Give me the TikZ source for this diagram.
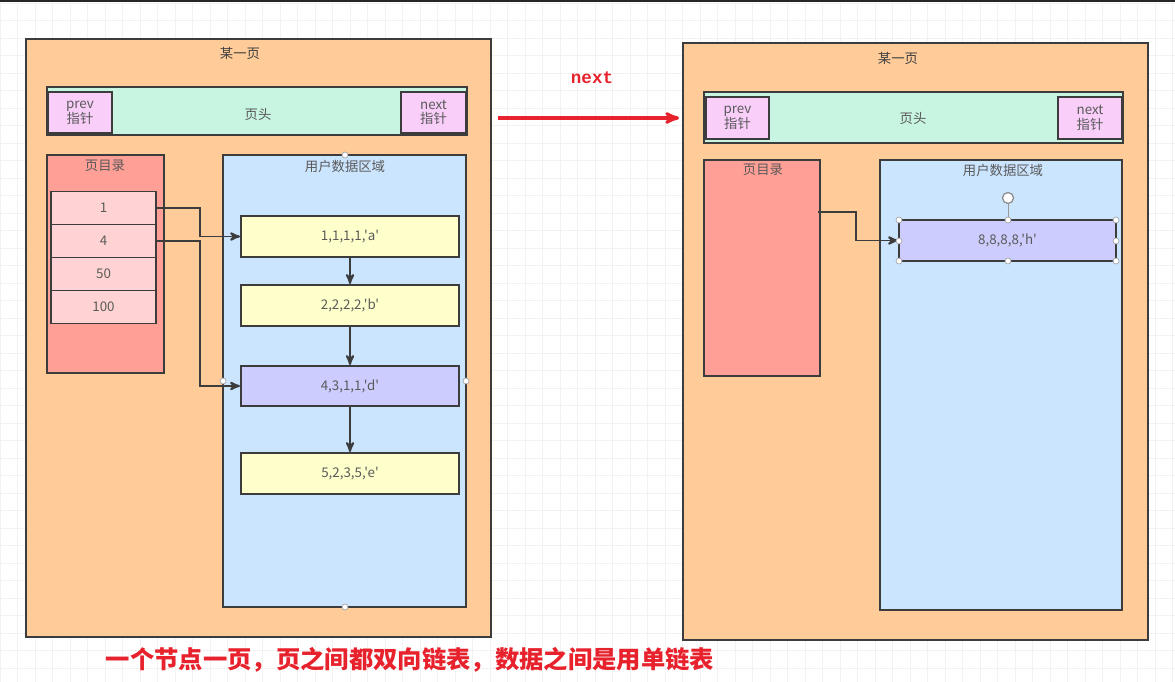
\documentclass[tikz,border=0pt]{standalone}
\usepackage{fontspec}
\setmainfont{Noto Sans CJK SC}[Ligatures=TeXOff]
\newfontfamily\nextfont{Liberation Mono}
\usepackage{tikz}
\usetikzlibrary{arrows}
\usetikzlibrary{calc}
\definecolor{pagefill}{HTML}{FFCC99}
\definecolor{headfill}{HTML}{C8F5E1}
\definecolor{ptrfill}{HTML}{F9CEF9}
\definecolor{dirfill}{HTML}{FF9F96}
\definecolor{slotfill}{HTML}{FFD3D3}
\definecolor{datafill}{HTML}{CCE5FF}
\definecolor{recfill}{HTML}{FFFFCC}
\definecolor{selfill}{HTML}{CCCCFF}
\definecolor{boxline}{HTML}{3C3C3C}
\definecolor{txtgray}{HTML}{5A5A5A}
\definecolor{notered}{HTML}{E8222C}
\newcommand{\pxl}{0.025cm}

\begin{document}
\begin{tikzpicture}[x=0.025cm,y=-0.025cm]
\useasboundingbox (0,0) rectangle (1175,682);
% canvas grid
\fill[white] (0,0) rectangle (1175,682);
\foreach \gx in {0,17.5,...,1175} \draw[black!5,line width=0.4pt] (\gx,3) -- (\gx,682);
\foreach \gy in {3,20.5,...,682} \draw[black!5,line width=0.4pt] (0,\gy) -- (1175,\gy);
\fill[black!85] (0,0) rectangle (1175,2.5);

\begin{scope}[>=stealth',
  box/.style={draw=boxline,line width=1.4pt,inner sep=0pt,text=txtgray,font=\fontsize{9.5}{11}\selectfont},
  wh/.style 2 args={minimum width=#1*\pxl,minimum height=#2*\pxl},
  page/.style={box,fill=pagefill},
  head/.style={box,fill=headfill},
  ptr/.style={box,fill=ptrfill,align=center,font=\fontsize{9.5}{10.5}\selectfont},
  dir/.style={box,fill=dirfill},
  slot/.style={box,fill=slotfill},
  udata/.style={box,fill=datafill},
  rec/.style={box,fill=recfill},
  recsel/.style={box,fill=selfill},
  lbl/.style={text=txtgray,inner sep=0pt,font=\fontsize{9.5}{11}\selectfont},
  link/.style={->,draw=boxline,line width=1.4pt}]

% left page
\node[page,wh={465}{598}] (lpage) at (258.5,338) {};
\node[lbl,text=black!75] (ltitle) at (240,53) {某一页};
\node[head,wh={420}{48}] (lhead) at (257,111) {};
\node[lbl] (lheadlbl) at (258,115) {页头};
\node[ptr,wh={64}{41}] (lprev) at (80,112.5) {prev\\指针};
\node[ptr,wh={65}{41}] (lnext) at (433.5,112.5) {next\\指针};
\node[dir,wh={117}{218}] (ldir) at (105.5,264) {};
\node[lbl] (ldirlbl) at (105,166) {页目录};
\node[slot,wh={105}{33}] (s1) at (103.5,208) {1};
\node[slot,wh={105}{33}] (s4) at (103.5,241) {4};
\node[slot,wh={105}{33}] (s50) at (103.5,274) {50};
\node[slot,wh={105}{33}] (s100) at (103.5,307) {100};
\node[udata,wh={243}{452}] (ludata) at (344.5,381) {};
\node[lbl] (ludatalbl) at (345,166) {用户数据区域};
\node[rec,wh={218}{41}] (ra) at (350,236.5) {1,1,1,1,'a'};
\node[rec,wh={218}{41}] (rb) at (350,305.5) {2,2,2,2,'b'};
\node[recsel,wh={218}{40}] (rd) at (350,386) {4,3,1,1,'d'};
\node[rec,wh={218}{41}] (re) at (350,473.5) {5,2,3,5,'e'};
\path[link]
  (ra) edge (rb)
  (rb) edge (rd)
  (rd) edge (re);
\draw[link] (s1.east) -- ++(43,0) |- (ra.west);
\draw[link] (s4.east) -- ++(43,0) |- (rd.west);

% right page
\node[page,wh={465}{597}] (rpage) at (915.5,341.5) {};
\node[lbl,text=black!75] (rtitle) at (898,58) {某一页};
\node[head,wh={419}{51}] (rhead) at (913.5,117.5) {};
\node[lbl] (rheadlbl) at (913,119) {页头};
\node[ptr,wh={63}{42}] (rprev) at (737.5,118) {prev\\指针};
\node[ptr,wh={64}{42}] (rnext) at (1090,118) {next\\指针};
\node[dir,wh={116}{216}] (rdir) at (762,268) {};
\node[lbl] (rdirlbl) at (763,170) {页目录};
\node[udata,wh={242}{450}] (rudata) at (1001,385) {};
\node[lbl] (rudatalbl) at (1003,170) {用户数据区域};
\node[recsel,wh={217}{41}] (rh) at (1007.5,240.5) {8,8,8,8,'h'};
\coordinate (rptr) at (818,212);
\draw[link] (rptr) -- ++(38,0) |- (rh.west);

% next pointer between pages
\coordinate (nfrom) at (498,118);
\coordinate (nto) at (679,118);
\draw[->,draw=notered,line width=2.2pt] (nfrom) -- (nto);
\node[text=notered,font=\nextfont\bfseries\fontsize{12.5}{14}\selectfont] (nextlbl) at (592,78) {next};
\end{scope}

% selection handles
\tikzset{handle/.style={circle,fill=white,draw=black!35,line width=0.5pt,inner sep=0pt,minimum size=6*\pxl}}
\foreach \hx/\hy in {345/155,345/607,223/381,466/381,899/220,1008/220,1116/220,899/241,1116/241,899/261,1008/261,1116/261}
  \node[handle] at (\hx,\hy) {};
\draw[black!40,line width=0.6pt] (1008,203) -- (1008,217);
\node[handle,minimum size=11*\pxl,line width=0.9pt,draw=black!45] (rot) at (1008,198) {};

% caption
\node[text=notered,font=\bfseries\fontsize{17.3}{20}\selectfont] (caption) at (410,660) {一个节点一页，页之间都双向链表，数据之间是用单链表};
\end{tikzpicture}
\end{document}
